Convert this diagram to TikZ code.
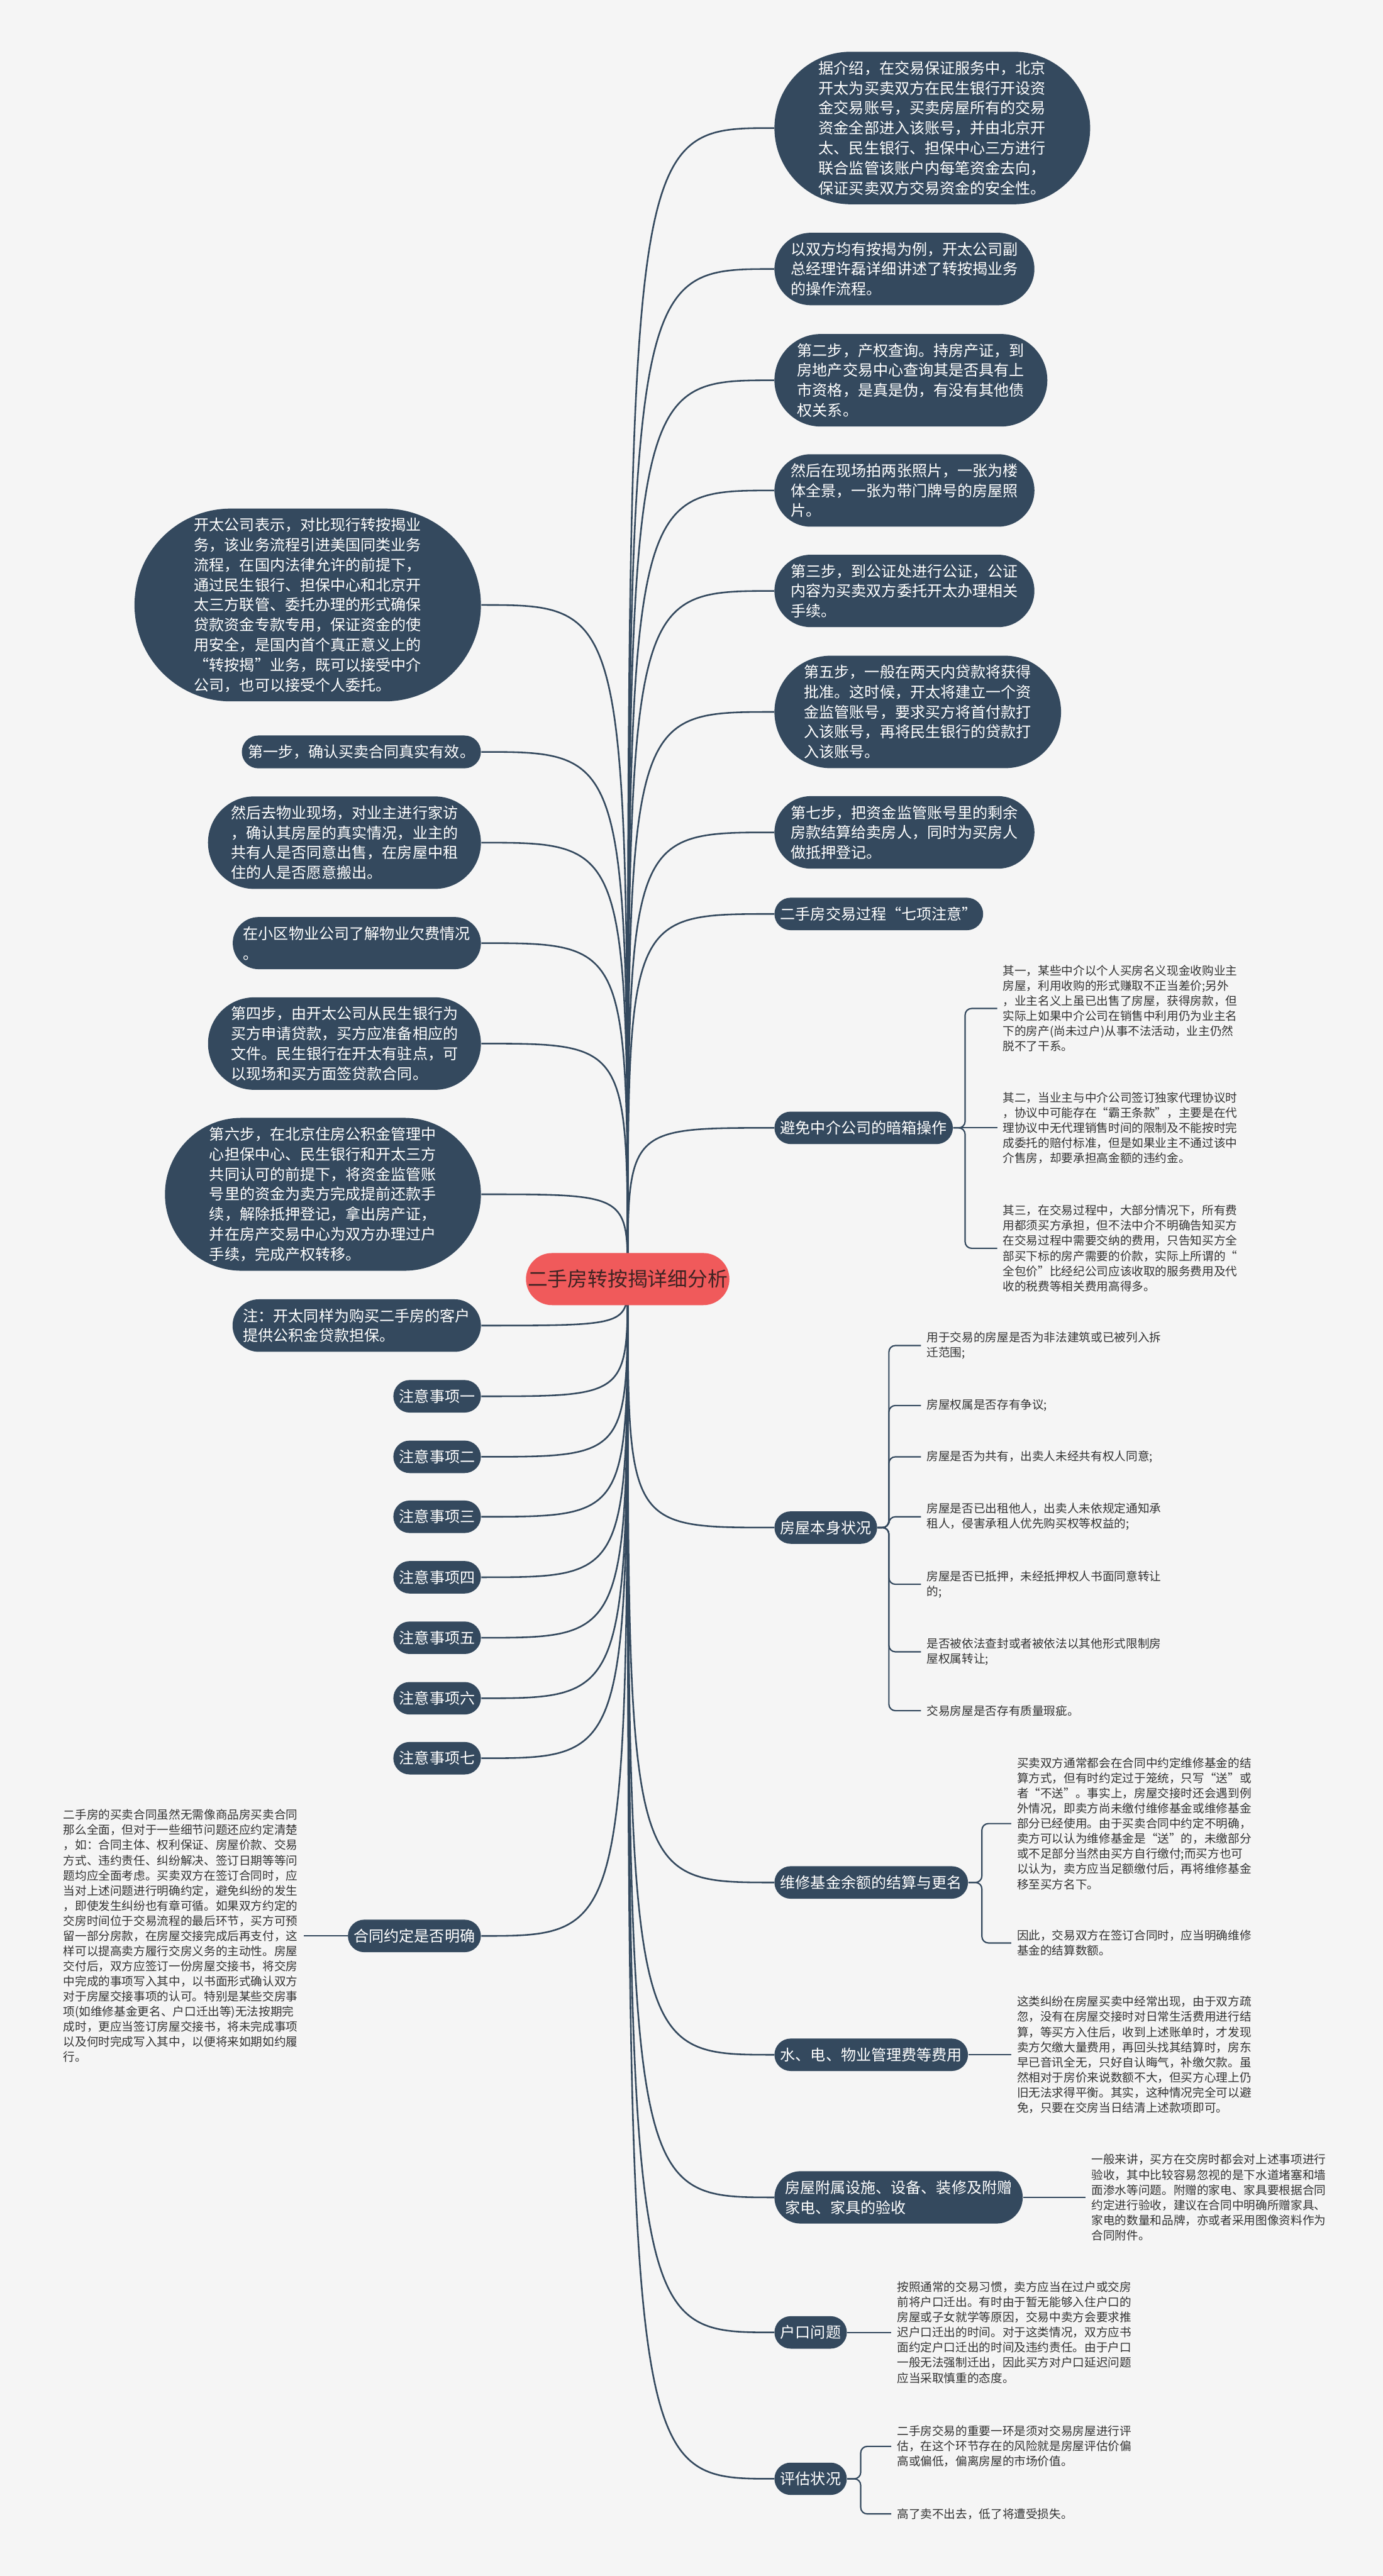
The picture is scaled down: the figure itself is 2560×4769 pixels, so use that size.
\documentclass[tikz,border=0pt]{standalone}
\usepackage{fontspec}
\setmainfont{Noto Sans CJK SC}
\usetikzlibrary{shapes.misc}
\definecolor{mapnavy}{HTML}{34495E}
\definecolor{paperbg}{HTML}{F5F5F5}
\definecolor{rootred}{HTML}{F05A5B}
\definecolor{roottext}{HTML}{3E2323}
\definecolor{leafgrey}{HTML}{333333}
\pgfdeclarelayer{paper}
\pgfdeclarelayer{links}
\pgfsetlayers{paper,links,main}

\begin{document}
\begin{tikzpicture}[x=0.01cm,y=-0.01cm,
  bubble/.style={rounded rectangle,fill=mapnavy,text=white,align=left,font=\fontsize{7.97pt}{10.53pt}\selectfont,inner xsep=0.08cm,inner ysep=0.17cm},
  rootbubble/.style={rounded rectangle,fill=rootred,text=roottext,font=\fontsize{10.53pt}{12pt}\selectfont,inner xsep=0pt,inner ysep=0.31cm},
  leaf/.style={text=leafgrey,align=left,font=\fontsize{6.17pt}{7.97pt}\selectfont,inner xsep=0.1cm,inner ysep=0.05cm},
  trunk/.style={draw=mapnavy,line width=0.03cm},
  twig/.style={draw=mapnavy,line width=0.025cm,rounded corners=0.12cm}]
\useasboundingbox (0,0) rectangle (2560,4769);
\begin{pgfonlayer}{paper}
\fill[paperbg] (0,0) rectangle (2560,4769);
\end{pgfonlayer}

\node[rootbubble] (root) at (1162,2368) {二手房转按揭详细分析};

\node[bubble,anchor=west] (intro) at (1433,237) {据介绍，在交易保证服务中，北京\\开太为买卖双方在民生银行开设资\\金交易账号，买卖房屋所有的交易\\资金全部进入该账号，并由北京开\\太、民生银行、担保中心三方进行\\联合监管该账户内每笔资金去向，\\保证买卖双方交易资金的安全性。};
\node[bubble,anchor=west] (example) at (1433,498) {以双方均有按揭为例，开太公司副\\总经理许磊详细讲述了转按揭业务\\的操作流程。};
\node[bubble,anchor=west] (step2) at (1433,704) {第二步，产权查询。持房产证，到\\房地产交易中心查询其是否具有上\\市资格，是真是伪，有没有其他债\\权关系。};
\node[bubble,anchor=west] (photo) at (1433,908) {然后在现场拍两张照片，一张为楼\\体全景，一张为带门牌号的房屋照\\片。};
\node[bubble,anchor=west] (step3) at (1433,1094) {第三步，到公证处进行公证，公证\\内容为买卖双方委托开太办理相关\\手续。};
\node[bubble,anchor=west] (step5) at (1433,1318) {第五步，一般在两天内贷款将获得\\批准。这时候，开太将建立一个资\\金监管账号，要求买方将首付款打\\入该账号，再将民生银行的贷款打\\入该账号。};
\node[bubble,anchor=west] (step7) at (1433,1541) {第七步，把资金监管账号里的剩余\\房款结算给卖房人，同时为买房人\\做抵押登记。};
\node[bubble,anchor=west] (seven) at (1433,1692) {二手房交易过程“七项注意”};
\node[bubble,anchor=west] (agent) at (1433,2088) {避免中介公司的暗箱操作};
\node[bubble,anchor=west] (house) at (1433,2828) {房屋本身状况};
\node[bubble,anchor=west] (fund) at (1433,3485) {维修基金余额的结算与更名};
\node[bubble,anchor=west] (fees) at (1433,3804) {水、电、物业管理费等费用};
\node[bubble,anchor=west] (fitout) at (1433,4068) {房屋附属设施、设备、装修及附赠\\家电、家具的验收};
\node[bubble,anchor=west] (hukou) at (1433,4318) {户口问题};
\node[bubble,anchor=west] (assess) at (1433,4589) {评估状况};

\node[leaf,anchor=west] (agent1) at (1846,1867) {其一，某些中介以个人买房名义现金收购业主\\房屋，利用收购的形式赚取不正当差价;另外\\，业主名义上虽已出售了房屋，获得房款，但\\实际上如果中介公司在销售中利用仍为业主名\\下的房产(尚未过户)从事不法活动，业主仍然\\脱不了干系。};
\node[leaf,anchor=west] (agent2) at (1846,2088) {其二，当业主与中介公司签订独家代理协议时\\，协议中可能存在“霸王条款”，主要是在代\\理协议中无代理销售时间的限制及不能按时完\\成委托的赔付标准，但是如果业主不通过该中\\介售房，却要承担高金额的违约金。};
\node[leaf,anchor=west] (agent3) at (1846,2311) {其三，在交易过程中，大部分情况下，所有费\\用都须买方承担，但不法中介不明确告知买方\\在交易过程中需要交纳的费用，只告知买方全\\部买下标的房产需要的价款，实际上所谓的“\\全包价”比经纪公司应该收取的服务费用及代\\收的税费等相关费用高得多。};

\node[leaf,anchor=west] (house1) at (1705,2491) {用于交易的房屋是否为非法建筑或已被列入拆\\迁范围;};
\node[leaf,anchor=west] (house2) at (1705,2602) {房屋权属是否存有争议;};
\node[leaf,anchor=west] (house3) at (1705,2697) {房屋是否为共有，出卖人未经共有权人同意;};
\node[leaf,anchor=west] (house4) at (1705,2808) {房屋是否已出租他人，出卖人未依规定通知承\\租人，侵害承租人优先购买权等权益的;};
\node[leaf,anchor=west] (house5) at (1705,2933) {房屋是否已抵押，未经抵押权人书面同意转让\\的;};
\node[leaf,anchor=west] (house6) at (1705,3058) {是否被依法查封或者被依法以其他形式限制房\\屋权属转让;};
\node[leaf,anchor=west] (house7) at (1705,3167) {交易房屋是否存有质量瑕疵。};

\node[leaf,anchor=west] (fund1) at (1872,3376) {买卖双方通常都会在合同中约定维修基金的结\\算方式，但有时约定过于笼统，只写“送”或\\者“不送”。事实上，房屋交接时还会遇到例\\外情况，即卖方尚未缴付维修基金或维修基金\\部分已经使用。由于买卖合同中约定不明确，\\卖方可以认为维修基金是“送”的，未缴部分\\或不足部分当然由买方自行缴付;而买方也可\\以认为，卖方应当足额缴付后，再将维修基金\\移至买方名下。};
\node[leaf,anchor=west] (fund2) at (1872,3597) {因此，交易双方在签订合同时，应当明确维修\\基金的结算数额。};
\node[leaf,anchor=west] (fees1) at (1872,3804) {这类纠纷在房屋买卖中经常出现，由于双方疏\\忽，没有在房屋交接时对日常生活费用进行结\\算，等买方入住后，收到上述账单时，才发现\\卖方欠缴大量费用，再回头找其结算时，房东\\早已音讯全无，只好自认晦气，补缴欠款。虽\\然相对于房价来说数额不大，但买方心理上仍\\旧无法求得平衡。其实，这种情况完全可以避\\免，只要在交房当日结清上述款项即可。};
\node[leaf,anchor=west] (fitout1) at (2010,4068) {一般来讲，买方在交房时都会对上述事项进行\\验收，其中比较容易忽视的是下水道堵塞和墙\\面渗水等问题。附赠的家电、家具要根据合同\\约定进行验收，建议在合同中明确所赠家具、\\家电的数量和品牌，亦或者采用图像资料作为\\合同附件。};
\node[leaf,anchor=west] (hukou1) at (1650,4318) {按照通常的交易习惯，卖方应当在过户或交房\\前将户口迁出。有时由于暂无能够入住户口的\\房屋或子女就学等原因，交易中卖方会要求推\\迟户口迁出的时间。对于这类情况，双方应书\\面约定户口迁出的时间及违约责任。由于户口\\一般无法强制迁出，因此买方对户口延迟问题\\应当采取慎重的态度。};
\node[leaf,anchor=west] (assess1) at (1650,4529) {二手房交易的重要一环是须对交易房屋进行评\\估，在这个环节存在的风险就是房屋评估价偏\\高或偏低，偏离房屋的市场价值。};
\node[leaf,anchor=west] (assess2) at (1650,4654) {高了卖不出去，低了将遭受损失。};

\node[bubble,anchor=east] (kaitai) at (891,1120) {开太公司表示，对比现行转按揭业\\务，该业务流程引进美国同类业务\\流程，在国内法律允许的前提下，\\通过民生银行、担保中心和北京开\\太三方联管、委托办理的形式确保\\贷款资金专款专用，保证资金的使\\用安全，是国内首个真正意义上的\\“转按揭”业务，既可以接受中介\\公司，也可以接受个人委托。};
\node[bubble,anchor=east] (step1) at (891,1392) {第一步，确认买卖合同真实有效。};
\node[bubble,anchor=east] (visit) at (891,1560) {然后去物业现场，对业主进行家访\\，确认其房屋的真实情况，业主的\\共有人是否同意出售，在房屋中租\\住的人是否愿意搬出。};
\node[bubble,anchor=east] (propfee) at (891,1746) {在小区物业公司了解物业欠费情况\\。};
\node[bubble,anchor=east] (step4) at (891,1932) {第四步，由开太公司从民生银行为\\买方申请贷款，买方应准备相应的\\文件。民生银行在开太有驻点，可\\以现场和买方面签贷款合同。};
\node[bubble,anchor=east] (step6) at (891,2211) {第六步，在北京住房公积金管理中\\心担保中心、民生银行和开太三方\\共同认可的前提下，将资金监管账\\号里的资金为卖方完成提前还款手\\续，解除抵押登记，拿出房产证，\\并在房产交易中心为双方办理过户\\手续，完成产权转移。};
\node[bubble,anchor=east] (note) at (891,2454) {注：开太同样为购买二手房的客户\\提供公积金贷款担保。};
\node[bubble,anchor=east] (tip1) at (891,2585) {注意事项一};
\node[bubble,anchor=east] (tip2) at (891,2697) {注意事项二};
\node[bubble,anchor=east] (tip3) at (891,2808) {注意事项三};
\node[bubble,anchor=east] (tip4) at (891,2920) {注意事项四};
\node[bubble,anchor=east] (tip5) at (891,3032) {注意事项五};
\node[bubble,anchor=east] (tip6) at (891,3144) {注意事项六};
\node[bubble,anchor=east] (tip7) at (891,3255) {注意事项七};
\node[bubble,anchor=east] (contract) at (891,3584) {合同约定是否明确};
\node[leaf,anchor=east] (contract1) at (562,3584) {二手房的买卖合同虽然无需像商品房买卖合同\\那么全面，但对于一些细节问题还应约定清楚\\，如：合同主体、权利保证、房屋价款、交易\\方式、违约责任、纠纷解决、签订日期等等问\\题均应全面考虑。买卖双方在签订合同时，应\\当对上述问题进行明确约定，避免纠纷的发生\\，即使发生纠纷也有章可循。如果双方约定的\\交房时间位于交易流程的最后环节，买方可预\\留一部分房款，在房屋交接完成后再支付，这\\样可以提高卖方履行交房义务的主动性。房屋\\交付后，双方应签订一份房屋交接书，将交房\\中完成的事项写入其中，以书面形式确认双方\\对于房屋交接事项的认可。特别是某些交房事\\项(如维修基金更名、户口迁出等)无法按期完\\成时，更应当签订房屋交接书，将未完成事项\\以及何时完成写入其中，以便将来如期如约履\\行。};

\begin{pgfonlayer}{links}
\draw[trunk] (root.center) .. controls (root.center |- intro.west) .. (intro.west);
\draw[trunk] (root.center) .. controls (root.center |- example.west) .. (example.west);
\draw[trunk] (root.center) .. controls (root.center |- step2.west) .. (step2.west);
\draw[trunk] (root.center) .. controls (root.center |- photo.west) .. (photo.west);
\draw[trunk] (root.center) .. controls (root.center |- step3.west) .. (step3.west);
\draw[trunk] (root.center) .. controls (root.center |- step5.west) .. (step5.west);
\draw[trunk] (root.center) .. controls (root.center |- step7.west) .. (step7.west);
\draw[trunk] (root.center) .. controls (root.center |- seven.west) .. (seven.west);
\draw[trunk] (root.center) .. controls (root.center |- agent.west) .. (agent.west);
\draw[trunk] (root.center) .. controls (root.center |- house.west) .. (house.west);
\draw[trunk] (root.center) .. controls (root.center |- fund.west) .. (fund.west);
\draw[trunk] (root.center) .. controls (root.center |- fees.west) .. (fees.west);
\draw[trunk] (root.center) .. controls (root.center |- fitout.west) .. (fitout.west);
\draw[trunk] (root.center) .. controls (root.center |- hukou.west) .. (hukou.west);
\draw[trunk] (root.center) .. controls (root.center |- assess.west) .. (assess.west);
\draw[trunk] (root.center) .. controls (root.center |- kaitai.east) .. (kaitai.east);
\draw[trunk] (root.center) .. controls (root.center |- step1.east) .. (step1.east);
\draw[trunk] (root.center) .. controls (root.center |- visit.east) .. (visit.east);
\draw[trunk] (root.center) .. controls (root.center |- propfee.east) .. (propfee.east);
\draw[trunk] (root.center) .. controls (root.center |- step4.east) .. (step4.east);
\draw[trunk] (root.center) .. controls (root.center |- step6.east) .. (step6.east);
\draw[trunk] (root.center) .. controls (root.center |- note.east) .. (note.east);
\draw[trunk] (root.center) .. controls (root.center |- tip1.east) .. (tip1.east);
\draw[trunk] (root.center) .. controls (root.center |- tip2.east) .. (tip2.east);
\draw[trunk] (root.center) .. controls (root.center |- tip3.east) .. (tip3.east);
\draw[trunk] (root.center) .. controls (root.center |- tip4.east) .. (tip4.east);
\draw[trunk] (root.center) .. controls (root.center |- tip5.east) .. (tip5.east);
\draw[trunk] (root.center) .. controls (root.center |- tip6.east) .. (tip6.east);
\draw[trunk] (root.center) .. controls (root.center |- tip7.east) .. (tip7.east);
\draw[trunk] (root.center) .. controls (root.center |- contract.east) .. (contract.east);

\draw[twig] (agent.east) -- ++(22,0) |- (agent1.west);
\draw[twig] (agent.east) -- (agent2.west);
\draw[twig] (agent.east) -- ++(22,0) |- (agent3.west);
\draw[twig] (house.east) -- ++(21,0) |- (house1.west);
\draw[twig] (house.east) -- ++(21,0) |- (house2.west);
\draw[twig] (house.east) -- ++(21,0) |- (house3.west);
\draw[twig] (house.east) -- ++(21,0) |- (house4.west);
\draw[twig] (house.east) -- ++(21,0) |- (house5.west);
\draw[twig] (house.east) -- ++(21,0) |- (house6.west);
\draw[twig] (house.east) -- ++(21,0) |- (house7.west);
\draw[twig] (fund.east) -- ++(25,0) |- (fund1.west);
\draw[twig] (fund.east) -- ++(25,0) |- (fund2.west);
\draw[twig] (fees.east) -- (fees1.west);
\draw[twig] (fitout.east) -- (fitout1.west);
\draw[twig] (hukou.east) -- (hukou1.west);
\draw[twig] (assess.east) -- ++(25,0) |- (assess1.west);
\draw[twig] (assess.east) -- ++(25,0) |- (assess2.west);
\draw[twig] (contract.west) -- (contract1.east);
\end{pgfonlayer}
\end{tikzpicture}
\end{document}
